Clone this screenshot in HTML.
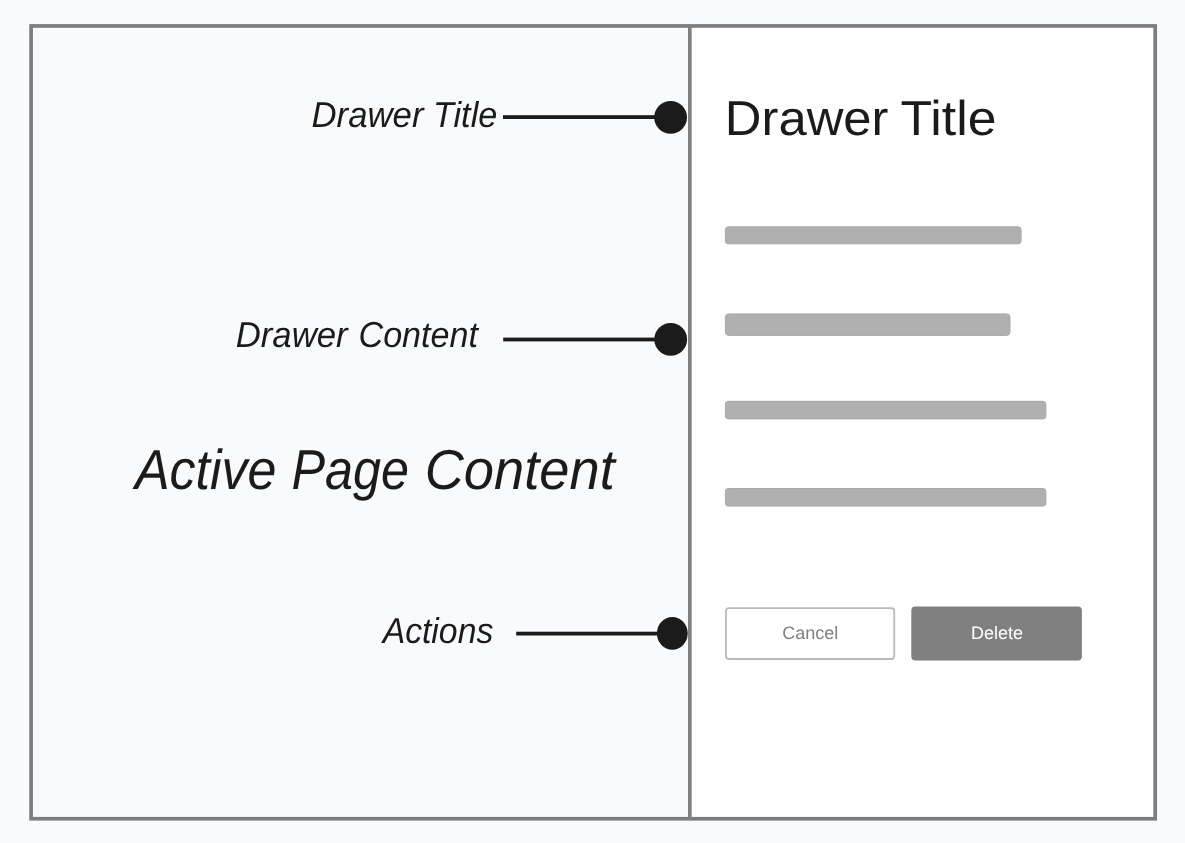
<!DOCTYPE html>
<html lang="en">
<head>
<meta charset="utf-8">
<title>Drawer anatomy</title>
<style>
  html, body { margin: 0; padding: 0; }
  body {
    width: 1185px; height: 843px; overflow: hidden;
    background: #f9fafc;
    font-family: "Liberation Sans", sans-serif;
  }
  svg { position: absolute; left: 0; top: 0; display: block; will-change: transform; }
  text { font-family: "Liberation Sans", sans-serif; text-rendering: geometricPrecision; }
  .it { font-style: italic; fill: #1b1b1c; }
</style>
</head>
<body>
<svg width="1185" height="843" viewBox="0 0 1185 843">
  <!-- page background -->
  <rect x="0" y="0" width="1185" height="843" fill="#f9fafc"/>

  <!-- drawer panel (white) -->
  <rect x="690" y="26" width="465" height="793" fill="#ffffff"/>

  <!-- outer frame -->
  <rect x="31.1" y="25.95" width="1124.1" height="792.8" fill="none" stroke="#7c7d80" stroke-width="3.7"/>

  <!-- divider -->
  <rect x="688" y="26" width="3.65" height="793" fill="#808080"/>

  <!-- annotation 1: Drawer Title -->
  <text class="it" x="311.56" y="127.00" font-size="36.00" textLength="111.89" lengthAdjust="spacingAndGlyphs">Drawer</text>
  <text class="it" x="432.90" y="127.00" font-size="36.00" textLength="64.40" lengthAdjust="spacingAndGlyphs">Title</text>
  <rect x="503" y="115.20" width="160" height="3.8" fill="#1b1b1c"/>
  <circle cx="670.6" cy="117.3" r="16.4" fill="#1b1b1c"/>

  <!-- annotation 2: Drawer Content -->
  <text class="it" x="235.72" y="347.00" font-size="36.00" textLength="111.91" lengthAdjust="spacingAndGlyphs">Drawer</text>
  <text class="it" x="358.49" y="347.00" font-size="36.00" textLength="119.57" lengthAdjust="spacingAndGlyphs">Content</text>
  <rect x="503.2" y="337.60" width="160" height="3.8" fill="#1b1b1c"/>
  <circle cx="670.7" cy="339.3" r="16.4" fill="#1b1b1c"/>

  <!-- annotation 3: Actions -->
  <text class="it" x="382.64" y="643.00" font-size="36.00" textLength="110.65" lengthAdjust="spacingAndGlyphs">Actions</text>
  <rect x="516.2" y="631.70" width="150" height="3.8" fill="#1b1b1c"/>
  <ellipse cx="672.3" cy="633.3" rx="15.4" ry="16.4" fill="#1b1b1c"/>

  <!-- Active Page Content -->
  <text class="it" x="134.91" y="489.00" font-size="56.30" textLength="141.59" lengthAdjust="spacingAndGlyphs">Active</text>
  <text class="it" x="291.56" y="489.00" font-size="56.30" textLength="117.46" lengthAdjust="spacingAndGlyphs">Page</text>
  <text class="it" x="424.66" y="489.00" font-size="56.30" textLength="190.12" lengthAdjust="spacingAndGlyphs">Content</text>

  <!-- drawer title -->
  <text x="724.81" y="135.00" font-size="49.00" fill="#1b1b1c" textLength="163.74" lengthAdjust="spacingAndGlyphs">Drawer</text>
  <text x="900.64" y="135.00" font-size="49.00" fill="#1b1b1c" textLength="95.82" lengthAdjust="spacingAndGlyphs">Title</text>

  <!-- placeholder bars -->
  <rect x="725.4" y="226.85" width="295.7" height="17" rx="3" ry="3" fill="#b0b0b0" stroke="#a8a8a8" stroke-width="1"/>
  <rect x="725.4" y="313.9" width="284.6" height="21.5" rx="3.5" ry="3.5" fill="#b0b0b0" stroke="#a8a8a8" stroke-width="1"/>
  <rect x="725.4" y="401.3" width="320.5" height="17.6" rx="3" ry="3" fill="#b0b0b0" stroke="#a8a8a8" stroke-width="1"/>
  <rect x="725.4" y="488.5" width="320.5" height="17.6" rx="3" ry="3" fill="#b0b0b0" stroke="#a8a8a8" stroke-width="1"/>

  <!-- Cancel button -->
  <rect x="725.95" y="608.2" width="168.3" height="50.8" rx="3" ry="3" fill="#ffffff" stroke="#bababa" stroke-width="1.8"/>
  <text x="782.2" y="638.8" font-size="18" fill="#808080">Cancel</text>

  <!-- Delete button -->
  <rect x="911.3" y="606.4" width="170.6" height="54" rx="4" ry="4" fill="#808080"/>
  <text x="970.9" y="638.9" font-size="18" fill="#ffffff">Delete</text>
</svg>
</body>
</html>
